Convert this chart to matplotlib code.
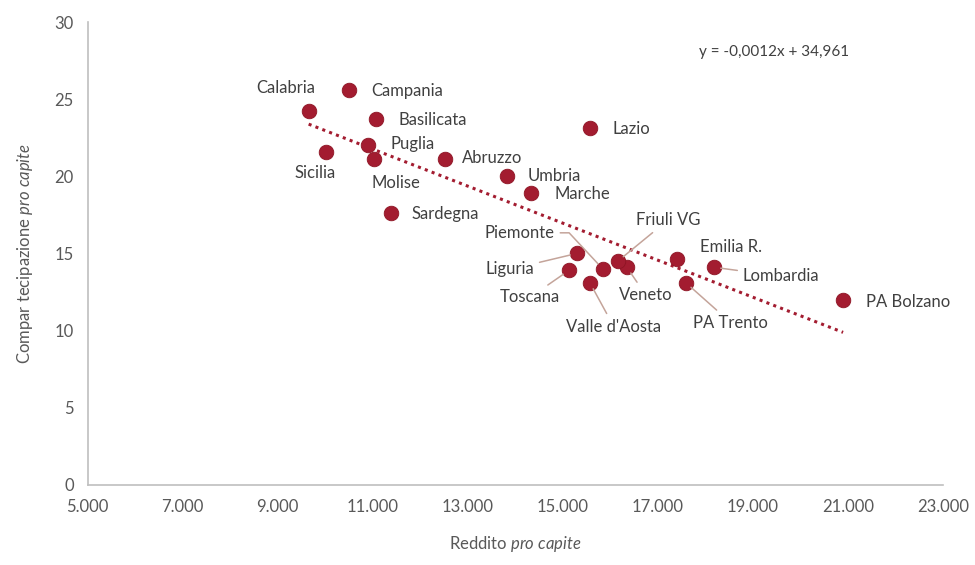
import matplotlib
matplotlib.use("Agg")
import matplotlib.pyplot as plt
from matplotlib.ticker import FuncFormatter

plt.rcParams['font.family'] = ['Lato', 'DejaVu Sans']
plt.rcParams['mathtext.fontset'] = 'custom'
plt.rcParams['mathtext.rm'] = 'Lato'
plt.rcParams['mathtext.it'] = 'Lato:italic'

# data
regioni = ["Calabria", "Campania", "Basilicata", "Puglia", "Molise", "Sicilia",
           "Abruzzo", "Umbria", "Marche", "Lazio", "Sardegna", "Piemonte",
           "Liguria", "Toscana", "Valle d'Aosta", "Veneto", "Friuli VG",
           "Emilia R.", "Lombardia", "PA Trento", "PA Bolzano"]
reddito = [9650, 10500, 11060, 10900, 11020, 10010,
           12520, 13820, 14330, 15570, 11380, 15840,
           15300, 15130, 15570, 16350, 16160,
           17400, 18180, 17590, 20900]
compartecipazione = [24.2, 25.6, 23.7, 22.0, 21.1, 21.6,
                     21.1, 20.0, 18.9, 23.1, 17.6, 14.0,
                     15.0, 13.9, 13.1, 14.1, 14.5,
                     14.65, 14.1, 13.1, 12.0]

# linear trend shown on the chart
slope = -0.0012
intercept = 34.961
equation = "y = -0,0012x + 34,961"

# label offsets in pixels (dx, dy, ha, leader connection or None)
label_pos = {
    "Calabria": (7, 23, 'right', None),
    "Campania": (22, -1, 'left', None),
    "Basilicata": (23, -1, 'left', None),
    "Puglia": (22, 1, 'left', None),
    "Molise": (-2, -24, 'left', None),
    "Sicilia": (-11, -21, 'center', None),
    "Abruzzo": (17, 1, 'left', None),
    "Umbria": (21, 0, 'left', None),
    "Marche": (24, -1, 'left', None),
    "Lazio": (23, -1, 'left', None),
    "Sardegna": (21, -1, 'left', None),
    "Piemonte": (-48, 36, 'right', "angle,angleA=0,angleB=-47,rad=0"),
    "Liguria": (-43, -16, 'right', "arc3"),
    "Toscana": (-39, -27, 'center', "arc3"),
    "Valle d'Aosta": (24, -44, 'center', "arc3"),
    "Veneto": (19, -28, 'center', "arc3"),
    "Friuli VG": (50, 41, 'center', "arc3"),
    "Emilia R.": (54, 12, 'center', None),
    "Lombardia": (29, -9, 'left', "arc3"),
    "PA Trento": (45, -40, 'center', "arc3"),
    "PA Bolzano": (23, -2, 'left', None),
}

red = '#A31C30'
text_col = '#404040'
axis_col = '#595959'

fig = plt.figure(figsize=(9.75, 5.65), dpi=100)
ax = fig.add_axes([0.090, 0.142, 0.877, 0.819])

ax.scatter(reddito, compartecipazione, s=110, color=red, edgecolors='#8E1424',
           linewidths=0.6, zorder=3)

x0, x1 = min(reddito), max(reddito)
ax.plot([x0, x1], [slope * x0 + intercept, slope * x1 + intercept],
        linestyle=(0, (1, 1.4)), color=red, linewidth=2.2, zorder=2)

for name, xv, yv in zip(regioni, reddito, compartecipazione):
    dx, dy, ha, conn = label_pos[name]
    props = None
    if conn:
        props = dict(arrowstyle='-', color='#C4A49A', lw=1.1,
                     shrinkA=2, shrinkB=5, connectionstyle=conn)
    ax.annotate(name, (xv, yv), xytext=(dx, dy), textcoords='offset pixels',
                ha=ha, va='center', fontsize=12, color=text_col,
                arrowprops=props, zorder=4)

ax.text(0.715, 0.935, equation, transform=ax.transAxes, fontsize=11,
        color=text_col, ha='left', va='center')

ax.set_xlim(5000, 23000)
ax.set_ylim(0, 30)
ax.set_xticks(range(5000, 23001, 2000))
ax.set_yticks(range(0, 31, 5))
ax.xaxis.set_major_formatter(FuncFormatter(lambda v, p: f"{int(v):,}".replace(",", ".")))

for side in ['top', 'right']:
    ax.spines[side].set_visible(False)
for side in ['left', 'bottom']:
    ax.spines[side].set_color('#BFBFBF')
    ax.spines[side].set_linewidth(1.2)
ax.tick_params(length=0, labelsize=12, labelcolor=axis_col, pad=10)

ax.set_xlabel(r"Reddito $\it{pro\ capite}$", fontsize=12, color=axis_col, labelpad=14)
ax.set_ylabel(r"Compar tecipazione $\it{pro\ capite}$", fontsize=12, color=axis_col, labelpad=14)

fig.savefig("out.png", dpi=100, facecolor='white')
